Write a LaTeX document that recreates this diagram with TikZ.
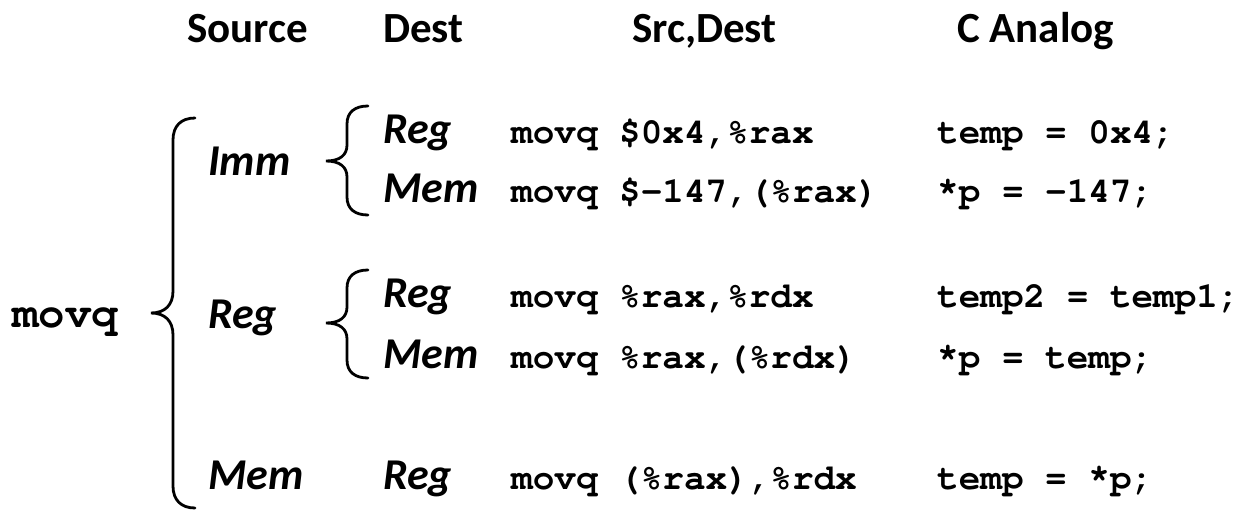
\documentclass[tikz,border=0pt]{standalone}
\usepackage[T1]{fontenc}
\usepackage{fontspec}
\newfontfamily\calfont{Carlito}
\newcommand\courfont{\fontencoding{T1}\fontfamily{pcr}\bfseries\selectfont}
\newcommand\upstar{\raisebox{0.4ex}{*}}
\usetikzlibrary{arrows}
\tikzset{
  head/.style={anchor=base west,inner sep=0pt,font=\calfont\bfseries\fontsize{43}{46}\selectfont},
  kind/.style={anchor=base west,inner sep=0pt,font=\calfont\bfseries\itshape\fontsize{44}{46}\selectfont},
  code/.style={anchor=base west,inner sep=0pt,font=\courfont\fontsize{36}{40}\selectfont},
  brc/.style={line width=2.8pt,line cap=round}
}
\begin{document}
\begin{tikzpicture}[x=1pt,y=-1pt]
        \useasboundingbox (0,0) rectangle (1256,528);
        %表头
        \node[head] (hsrc) at (187,42) {Source};
        \node[head] (hdst) at (383,42) {Dest};
        \node[head] (hsd) at (632,42) {Src,Dest};
        \node[head] (hc) at (957,42) {C Analog};
        %指令
        \node[code,font=\courfont\fontsize{44}{48}\selectfont] (mv) at (12,327) {movq};
        %源操作数
        \node[kind] (simm) at (208,175) {Imm};
        \node[kind] (sreg) at (208,328) {Reg};
        \node[kind] (smem) at (208,489) {Mem};
        %目的操作数
        \node[kind] (d1) at (383,143) {Reg};
        \node[kind] (d2) at (383,202) {Mem};
        \node[kind] (d3) at (383,307) {Reg};
        \node[kind] (d4) at (383,368) {Mem};
        \node[kind] (d5) at (383,489) {Reg};
        %汇编与C
        \node[code] (a1) at (511,143) {movq \$0x4,\%rax};
        \node[code] (a2) at (511,202) {movq \$-147,(\%rax)};
        \node[code] (a3) at (511,307) {movq \%rax,\%rdx};
        \node[code] (a4) at (511,368) {movq \%rax,(\%rdx)};
        \node[code] (a5) at (511,489) {movq (\%rax),\%rdx};
        \node[code] (c1) at (937,143) {temp = 0x4;};
        \node[code] (c2) at (937,202) {\upstar p = -147;};
        \node[code] (c3) at (937,307) {temp2 = temp1;};
        \node[code] (c4) at (937,368) {\upstar p = temp;};
        \node[code] (c5) at (937,489) {temp = \upstar p;};
        %大括号
        \draw [brc] (195,118) .. controls (181,118) and (173,126) .. (173,140) -- (173,291)
              .. controls (173,305) and (165,313) .. (151,313) .. controls (165,313) and (173,321) .. (173,335)
              -- (173,486) .. controls (173,500) and (181,508) .. (195,508);
        %小括号
        \draw [brc] (368,106) .. controls (355,106) and (347,112) .. (347,124) -- (347,145)
              .. controls (347,155) and (340,161) .. (326,161) .. controls (340,161) and (347,167) .. (347,177)
              -- (347,197) .. controls (347,209) and (355,215) .. (368,215);
        \draw [brc] (368,270) .. controls (355,270) and (347,276) .. (347,288) -- (347,307)
              .. controls (347,317) and (340,323) .. (326,323) .. controls (340,323) and (347,329) .. (347,339)
              -- (347,360) .. controls (347,372) and (355,378) .. (368,378);
    \end{tikzpicture}
\end{document}
